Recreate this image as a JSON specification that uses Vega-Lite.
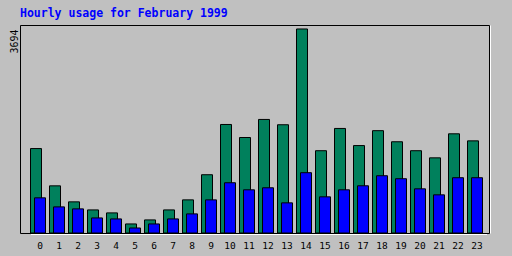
{
  "$schema": "https://vega.github.io/schema/vega-lite/v6.json",
  "width": 469,
  "height": 208,
  "autosize": {"type": "none"},
  "padding": {"left": 20, "top": 25, "right": 23, "bottom": 23},
  "background": "#c0c0c0",
  "config": {
    "view": {"stroke": "#000000", "strokeWidth": 1, "fill": "#c0c0c0"},
    "title": {"font": "DejaVu Sans Mono", "fontWeight": "bold", "fontSize": 11.5, "color": "#0000ff", "anchor": "start", "frame": "group", "baseline": "alphabetic", "offset": 6}
  },
  "title": "Hourly usage for February 1999",
  "data": {"values": [
    {"hour": "0", "hits": 1529, "files": 637},
    {"hour": "1", "hits": 854, "files": 473},
    {"hour": "2", "hits": 564, "files": 437},
    {"hour": "3", "hits": 418, "files": 273},
    {"hour": "4", "hits": 364, "files": 255},
    {"hour": "5", "hits": 164, "files": 91},
    {"hour": "6", "hits": 237, "files": 164},
    {"hour": "7", "hits": 418, "files": 255},
    {"hour": "8", "hits": 600, "files": 346},
    {"hour": "9", "hits": 1055, "files": 600},
    {"hour": "10", "hits": 1965, "files": 910},
    {"hour": "11", "hits": 1729, "files": 782},
    {"hour": "12", "hits": 2056, "files": 819},
    {"hour": "13", "hits": 1960, "files": 546},
    {"hour": "14", "hits": 3694, "files": 1092},
    {"hour": "15", "hits": 1490, "files": 655},
    {"hour": "16", "hits": 1893, "files": 782},
    {"hour": "17", "hits": 1583, "files": 855},
    {"hour": "18", "hits": 1853, "files": 1037},
    {"hour": "19", "hits": 1652, "files": 983},
    {"hour": "20", "hits": 1490, "files": 800},
    {"hour": "21", "hits": 1361, "files": 691},
    {"hour": "22", "hits": 1796, "files": 1001},
    {"hour": "23", "hits": 1668, "files": 1001}
  ]},
  "layer": [
    {
      "mark": {"type": "bar", "size": 11, "xOffset": -4, "color": "#00805c", "stroke": "#000000", "strokeWidth": 1},
      "encoding": {
        "x": {"field": "hour", "type": "ordinal", "sort": null,
              "scale": {"range": [10.5, 466.5], "paddingInner": 0, "paddingOuter": 0},
              "axis": {"orient": "bottom", "title": null, "ticks": false, "labelAngle": 0, "labelPadding": 6,
                       "domainColor": "#ffffff", "domainWidth": 1, "offset": 1,
                       "labelFont": "DejaVu Sans Mono", "labelFontSize": 9.5, "labelColor": "#000000"}},
        "y": {"field": "hits", "type": "quantitative",
              "scale": {"domain": [0, 3766], "nice": false, "zero": false},
              "axis": {"orient": "left", "title": null, "values": [3694], "format": "d", "ticks": false, "domain": false, "grid": false,
                       "labelAngle": 270, "labelAlign": "right", "labelBaseline": "bottom", "labelPadding": 1,
                       "labelFont": "DejaVu Sans Mono", "labelFontSize": 10, "labelColor": "#000000"}}
      }
    },
    {
      "mark": {"type": "bar", "size": 11, "color": "#0000ff", "stroke": "#000000", "strokeWidth": 1},
      "encoding": {
        "x": {"field": "hour", "type": "ordinal", "sort": null, "axis": null},
        "y": {"field": "files", "type": "quantitative",
              "axis": {"orient": "right", "title": null, "labels": false, "ticks": false, "grid": false,
                       "domainColor": "#ffffff", "domainWidth": 1, "offset": 1}}
      }
    }
  ],
  "resolve": {"axis": {"x": "independent", "y": "independent"}}
}
